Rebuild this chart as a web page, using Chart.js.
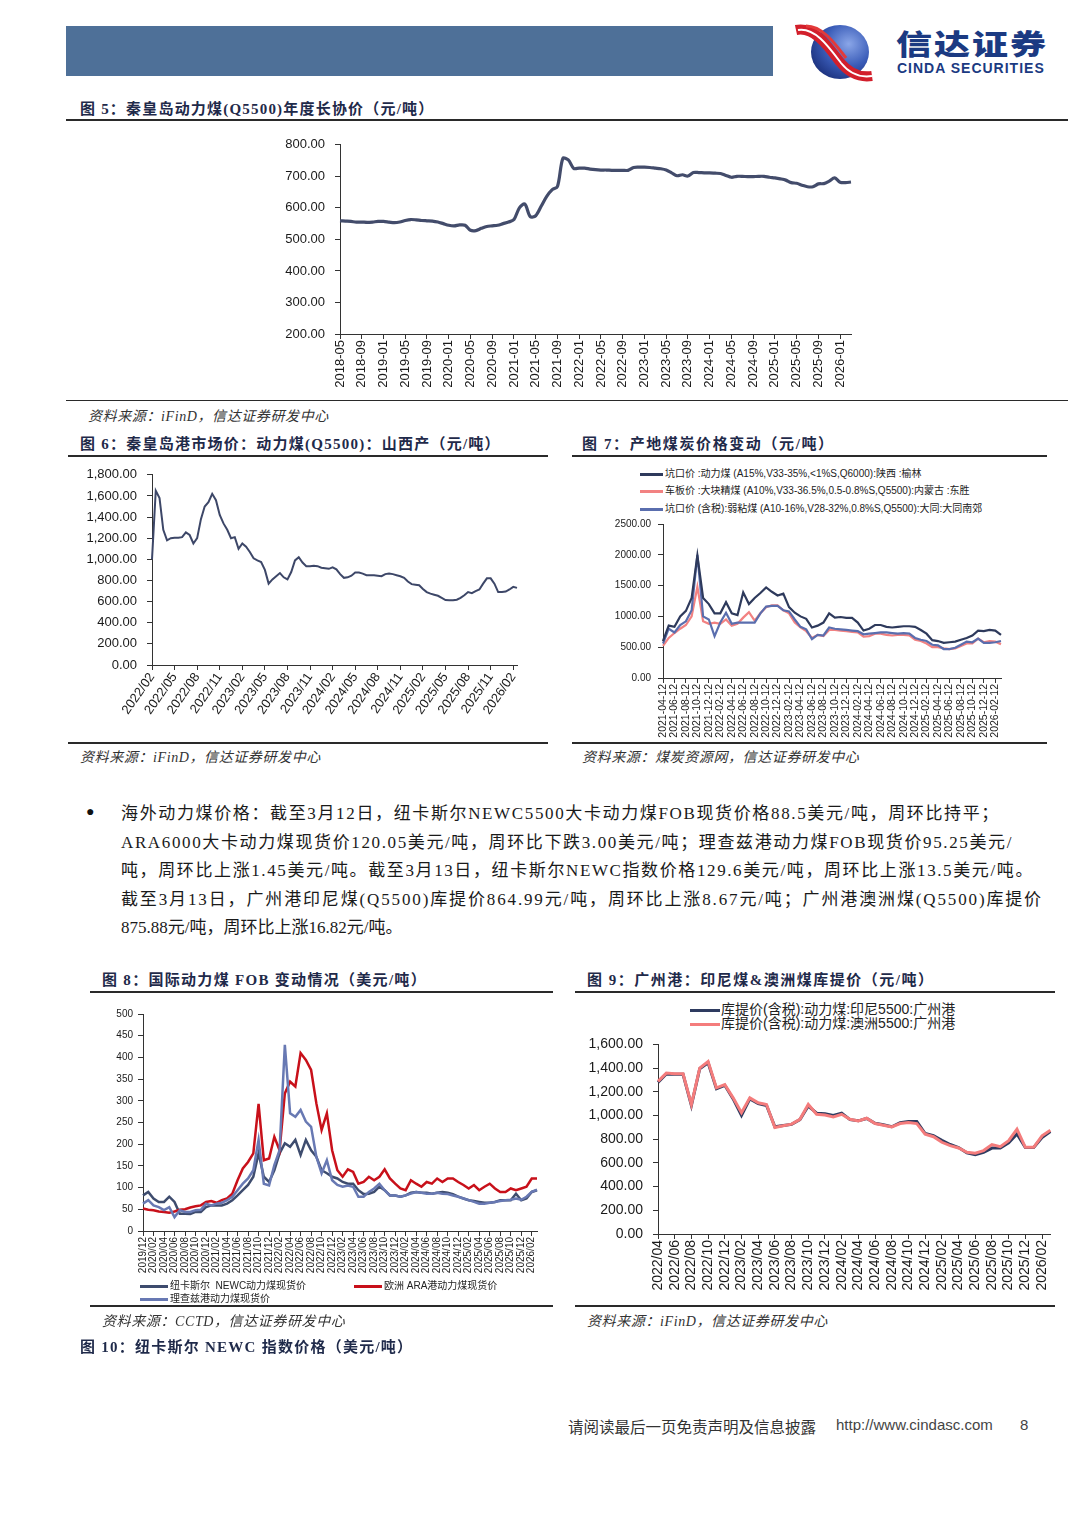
<!DOCTYPE html>
<html>
<head>
<meta charset="utf-8">
<script src="https://cdn.jsdelivr.net/npm/chart.js@4.4.1/dist/chart.umd.min.js"></script>
<style>
body { margin: 0; background: #fff; width: 1080px; height: 1527px; position: relative; overflow: hidden; font-family: "Liberation Sans", Arial, sans-serif; }
canvas { position: absolute; }
.title { position: absolute; font-family: "Liberation Serif", "Noto Sans CJK SC", serif; font-weight: bold; font-size: 15px; color: #1f2a4a; white-space: nowrap; line-height: 18px; letter-spacing: 1.25px; }
.rule { position: absolute; height: 2px; background: #2a2a2a; }
.src { position: absolute; font-family: "Liberation Serif", "Noto Sans CJK SC", serif; font-style: italic; font-size: 14px; color: #333; white-space: nowrap; line-height: 16px; letter-spacing: 0.6px; }
.leg { position: absolute; white-space: nowrap; font-family: "Liberation Sans", "Noto Sans CJK SC", sans-serif; color: #222; }
.leg div { position: absolute; left: 0; white-space: nowrap; }
.leg i { display: inline-block; vertical-align: middle; margin-right: 2px; }
.para { position: absolute; left: 121px; font-family: "Liberation Serif", "Noto Sans CJK SC", serif; font-size: 17px; color: #1a1a1a; white-space: nowrap; line-height: 20px; }
</style>
</head>
<body>

<!-- header -->
<div style="position:absolute;left:66px;top:26px;width:707px;height:50px;background:#4e7098;"></div>
<svg style="position:absolute;left:792px;top:22px" width="86" height="60" viewBox="0 0 86 60">
  <defs>
    <radialGradient id="g1" cx="0.65" cy="0.35" r="0.75">
      <stop offset="0" stop-color="#8aa6e8"/>
      <stop offset="0.55" stop-color="#3a5cb8"/>
      <stop offset="1" stop-color="#1a2f7a"/>
    </radialGradient>
  </defs>
  <ellipse cx="48" cy="30" rx="29" ry="27" fill="url(#g1)"/>
  <path d="M4,8 C22,4 36,24 48,40 C56,50 66,56 80,54" stroke="#d21f2b" stroke-width="10" fill="none"/>
  <path d="M6,8 C23,5 37,25 49,41 C57,51 67,56 80,54" stroke="#fff" stroke-width="2" fill="none"/>
  <path d="M14,4 C30,4 42,20 54,36" stroke="#e33a3a" stroke-width="3" fill="none"/>
</svg>
<div style="position:absolute;left:896px;top:28px;font-family:'Noto Sans CJK SC',sans-serif;font-weight:900;font-size:36px;line-height:36px;color:#1b3a82;letter-spacing:2px;white-space:nowrap;transform:scaleY(0.8);transform-origin:0 0;">信达证券</div>
<div style="position:absolute;left:897px;top:62px;font-family:'Liberation Sans',Arial,sans-serif;font-weight:bold;font-size:14px;line-height:13px;color:#1b3a82;letter-spacing:1px;white-space:nowrap;">CINDA SECURITIES</div>

<!-- figure 5 -->
<div class="title" style="left:80px;top:100px;letter-spacing:1.2px;">图 5：秦皇岛动力煤(Q5500)年度长协价（元/吨）</div>
<div class="rule" style="left:66px;top:119px;width:1002px;"></div>
<canvas id="c5"></canvas>
<div class="rule" style="left:66px;top:400px;width:1002px;height:1px;"></div>
<div class="src" style="left:88px;top:409px;">资料来源：iFinD，信达证券研发中心</div>

<!-- figure 6 -->
<div class="title" style="left:80px;top:435px;">图 6：秦皇岛港市场价：动力煤(Q5500)：山西产（元/吨）</div>
<div class="rule" style="left:68px;top:455px;width:480px;"></div>
<canvas id="c6"></canvas>
<div class="rule" style="left:68px;top:742px;width:480px;"></div>
<div class="src" style="left:80px;top:750px;">资料来源：iFinD，信达证券研发中心</div>

<!-- figure 7 -->
<div class="title" style="left:582px;top:435px;letter-spacing:1.6px;">图 7：产地煤炭价格变动（元/吨）</div>
<div class="rule" style="left:572px;top:455px;width:475px;"></div>
<div class="leg" style="left:640px;top:465px;font-size:10px;">
  <div style="top:0;"><i style="width:23px;height:3px;background:#2e3a5c;"></i>坑口价 :动力煤 (A15%,V33-35%,&lt;1%S,Q6000):陕西 :榆林</div>
  <div style="top:17px;"><i style="width:23px;height:3px;background:#f28282;"></i>车板价 :大块精煤 (A10%,V33-36.5%,0.5-0.8%S,Q5500):内蒙古 :东胜</div>
  <div style="top:35px;"><i style="width:23px;height:3px;background:#5a6eae;"></i>坑口价 (含税):弱粘煤 (A10-16%,V28-32%,0.8%S,Q5500):大同:大同南郊</div>
</div>
<canvas id="c7"></canvas>
<div class="rule" style="left:572px;top:742px;width:475px;"></div>
<div class="src" style="left:582px;top:750px;">资料来源：煤炭资源网，信达证券研发中心</div>

<!-- text -->
<div style="position:absolute;left:86px;top:803px;font-size:14px;color:#111;">●</div>
<div class="para" id="p1" style="top:804px;">海外动力煤价格：截至3月12日，纽卡斯尔NEWC5500大卡动力煤FOB现货价格88.5美元/吨，周环比持平；</div>
<div class="para" id="p2" style="top:833px;">ARA6000大卡动力煤现货价120.05美元/吨，周环比下跌3.00美元/吨；理查兹港动力煤FOB现货价95.25美元/</div>
<div class="para" id="p3" style="top:861px;">吨，周环比上涨1.45美元/吨。截至3月13日，纽卡斯尔NEWC指数价格129.6美元/吨，周环比上涨13.5美元/吨。</div>
<div class="para" id="p4" style="top:890px;">截至3月13日，广州港印尼煤(Q5500)库提价864.99元/吨，周环比上涨8.67元/吨；广州港澳洲煤(Q5500)库提价</div>
<div class="para" id="p5" style="top:918px;">875.88元/吨，周环比上涨16.82元/吨。</div>

<!-- figure 8 -->
<div class="title" style="left:102px;top:971px;letter-spacing:1.3px;">图 8：国际动力煤 FOB 变动情况（美元/吨）</div>
<div class="rule" style="left:90px;top:991px;width:463px;"></div>
<canvas id="c8"></canvas>
<div class="leg" style="left:140px;top:1277px;font-size:10px;">
  <div style="top:0;"><i style="width:28px;height:3px;background:#3e4c6e;"></i>纽卡斯尔&nbsp;&nbsp;NEWC动力煤现货价</div>
  <div style="top:0;left:214px;"><i style="width:28px;height:3px;background:#c8101a;"></i>欧洲 ARA港动力煤现货价</div>
  <div style="top:13px;"><i style="width:28px;height:3px;background:#6879b3;"></i>理查兹港动力煤现货价</div>
</div>
<div class="rule" style="left:90px;top:1305px;width:463px;"></div>
<div class="src" style="left:102px;top:1314px;">资料来源：CCTD，信达证券研发中心</div>
<div class="title" style="left:80px;top:1338px;">图 10：纽卡斯尔 NEWC 指数价格（美元/吨）</div>

<!-- figure 9 -->
<div class="title" style="left:587px;top:971px;letter-spacing:1.5px;">图 9：广州港：印尼煤&amp;澳洲煤库提价（元/吨）</div>
<div class="rule" style="left:575px;top:991px;width:480px;"></div>
<div class="leg" style="left:690px;top:1002px;font-size:14px;line-height:15px;">
  <div style="top:0;"><i style="width:30px;height:3.5px;background:#2e3b60;margin-right:1px;"></i>库提价(含税):动力煤:印尼5500:广州港</div>
  <div style="top:14px;"><i style="width:30px;height:3.5px;background:#f47c7c;margin-right:1px;"></i>库提价(含税):动力煤:澳洲5500:广州港</div>
</div>
<canvas id="c9"></canvas>
<div class="rule" style="left:575px;top:1305px;width:480px;"></div>
<div class="src" style="left:587px;top:1314px;">资料来源：iFinD，信达证券研发中心</div>

<!-- footer -->
<div style="position:absolute;left:568px;top:1415px;font-family:'Liberation Serif','Noto Sans CJK SC',serif;font-size:15.5px;color:#333;white-space:nowrap;">请阅读最后一页免责声明及信息披露</div>
<div style="position:absolute;left:836px;top:1416px;font-family:'Liberation Sans',Arial,sans-serif;font-size:15px;color:#444;">http://www.cindasc.com</div>
<div style="position:absolute;left:1020px;top:1416px;font-family:'Liberation Sans',Arial,sans-serif;font-size:15px;color:#444;">8</div>

<script>
// ---- data ----
// fig 5: monthly, 2018-05 .. 2026-03
const c5Values = [
  559, 558, 557, 555, 555, 554, 555, 557,
  557, 555, 553, 555, 560, 563, 562, 560, 559, 558, 555, 550,
  545, 543, 546, 545, 529, 528, 535, 541, 543, 545, 550, 555,
  563, 600, 612, 572, 575, 605, 636, 657, 668, 757, 752, 725,
  726, 726, 723, 721, 720, 720, 719, 719, 719, 719, 728, 729,
  729, 728, 726, 724, 720, 711, 702, 705, 701, 712, 712, 711,
  711, 710, 709, 703, 697, 700, 700, 699, 699, 700, 700, 697,
  695, 692, 688, 680, 678, 672, 667, 667, 676, 677, 685, 695,
  681, 680, 682
];

// fig 6: half-monthly, 2022/02 .. 2026/03
const c6Values = [
  1000, 1650, 1580, 1280, 1180, 1200, 1205, 1205, 1210, 1255,
  1230, 1150, 1200, 1380, 1500, 1540, 1620, 1560, 1420, 1340,
  1280, 1200, 1210, 1100, 1150, 1120, 1070, 1010, 990, 975,
  900, 770, 810, 840, 870, 830, 810, 880, 990, 1020,
  970, 935, 935, 940, 935, 920, 915, 910, 925, 905,
  860, 825, 830, 845, 875, 875, 865, 850, 850, 850,
  845, 840, 860, 865, 860, 850, 840, 825, 790, 765,
  760, 755, 720, 690, 675, 665, 655, 635, 615, 612,
  612, 618, 635, 660, 690, 680, 700, 715, 770, 820,
  820, 770, 690, 690, 695, 715, 740, 730
];

// fig 7: monthly, 2021-04 .. 2026-03
const c7Yulin = [
  600, 850, 830, 1000, 1090, 1300, 1990, 1300, 1200, 1050,
  1050, 1230, 1050, 1020, 1390, 1200, 1300, 1380, 1470, 1400,
  1340, 1370, 1150, 1060, 1000, 960, 820, 850, 900, 1050,
  980, 990, 975, 975, 900, 770, 800, 860, 860, 830,
  820, 830, 840, 840, 830, 780, 720, 615, 600, 570,
  580, 590, 620, 650, 690, 770, 760, 780, 770, 700
];
const c7Dongsheng = [
  520, 650, 730, 800, 860, 1000, 1480, 920, 880, 900,
  880, 950, 850, 880, 980, 1070, 930, 1050, 1150, 1180,
  1180, 1100, 1050, 900, 820, 760, 650, 700, 680, 780,
  780, 770, 760, 750, 740, 670, 680, 720, 720, 700,
  690, 700, 700, 690, 620, 600, 560, 500, 500, 480,
  470, 480, 520, 560, 560, 640, 580, 600, 590, 550
];
const c7Datong = [
  560, 800, 740, 860, 920, 1100, 2000, 1000, 950, 680,
  900, 1060, 880, 900, 900, 900, 900, 1050, 1160, 1170,
  1170, 1100, 1080, 950, 830, 790, 630, 700, 690, 820,
  800, 790, 780, 770, 760, 710, 720, 730, 740, 740,
  730, 720, 730, 720, 650, 620, 600, 540, 530, 470,
  470, 490, 540, 590, 580, 640, 570, 570, 580, 600
];

// fig 8: monthly, 2019/12 .. 2026/03
const c8Newc = [
  82, 90, 75, 67, 67, 79, 67, 40, 40, 39,
  44, 44, 55, 59, 59, 59, 63, 71, 82, 94,
  106, 125, 179, 125, 113, 140, 179, 202, 194, 210,
  175, 210, 186, 171, 140, 133, 125, 121, 113, 109,
  109, 94, 85, 86, 90, 102, 94, 82, 82, 79,
  82, 88, 90, 88, 88, 86, 88, 90, 88, 85,
  79, 75, 71, 69, 67, 65, 65, 67, 71, 71,
  71, 86, 71, 75, 90, 94
];
const c8Ara = [
  52, 49, 48, 45, 44, 42, 45, 49, 50, 54,
  57, 59, 67, 69, 65, 71, 75, 86, 117, 144,
  159, 179, 293, 163, 167, 217, 186, 317, 344, 333,
  410, 394, 371, 294, 233, 271, 186, 140, 125, 142,
  136, 109, 113, 125, 117, 125, 142, 121, 109, 98,
  94, 117, 109, 102, 113, 109, 121, 113, 121, 121,
  113, 106, 98, 106, 94, 102, 109, 98, 90, 90,
  98, 94, 98, 102, 121, 121
];
const c8Richards = [
  63, 71, 59, 55, 48, 55, 32, 48, 44, 44,
  48, 49, 63, 59, 63, 65, 71, 79, 94, 109,
  121, 140, 210, 109, 105, 152, 186, 429, 271, 263,
  279, 252, 240, 171, 133, 163, 117, 106, 102, 105,
  102, 79, 79, 90, 98, 109, 94, 82, 82, 79,
  82, 86, 90, 88, 86, 86, 88, 86, 85, 82,
  79, 75, 71, 67, 63, 63, 65, 67, 69, 71,
  72, 75, 72, 79, 90, 95
];

// fig 9: monthly, 2022/04 .. 2026/03
const c9Indo = [
  1280, 1350, 1348, 1348, 1085, 1395, 1445, 1225, 1255, 1140,
  1000, 1140, 1100, 1085, 905, 915, 925, 965, 1080, 1020,
  1015, 1000, 1020, 965, 955, 975, 935, 922, 905, 940,
  950, 950, 848, 830, 790, 755, 730, 685, 670, 690,
  725, 725, 770, 845, 730, 730, 815, 865
];
const c9Aus = [
  1288, 1358, 1352, 1352, 1093, 1400, 1455, 1233, 1260, 1149,
  1024, 1149, 1107, 1093, 899, 913, 927, 968, 1093, 1010,
  1004, 988, 1010, 968, 954, 977, 932, 918, 904, 932,
  940, 932, 843, 821, 774, 746, 726, 690, 682, 704,
  754, 737, 787, 885, 732, 732, 829, 876
];

// ---- labels ----
function months(y, m, n, sep, suffix) {
  const out = [];
  for (let k = 0; k < n; k++) {
    const mm = m - 1 + k;
    const yy = y + Math.floor(mm / 12);
    out.push(yy + sep + String(mm % 12 + 1).padStart(2, '0') + (suffix || ''));
  }
  return out;
}
const c5Labels = months(2018, 5, c5Values.length, '-');
const c6Labels = months(2022, 2, Math.ceil(c6Values.length / 2), '/').flatMap(l => [l, l]).slice(0, c6Values.length);
const c7Labels = months(2021, 4, c7Yulin.length, '-', '-12');
const c8Labels = months(2019, 12, c8Newc.length, '/');
const c9Labels = months(2022, 4, c9Indo.length, '/');

// ---- chart helper ----
const FONT = '"Liberation Sans", Arial, sans-serif';
const AXIS = '#333';
const TXT = '#1a1a1a';
const fixed2 = v => Number(v).toFixed(2);
const comma2 = v => Number(v).toLocaleString('en-US', { minimumFractionDigits: 2, maximumFractionDigits: 2 });

function drawLine(id, box, labels, series, o) {
  const cv = document.getElementById(id);
  cv.width = box.w;
  cv.height = box.h;
  cv.style.left = box.x + 'px';
  cv.style.top = box.y + 'px';
  const gridOpts = { display: true, drawOnChartArea: false, drawTicks: true, tickLength: 5, color: AXIS, lineWidth: 1 };
  return new Chart(cv, {
    type: 'line',
    data: {
      labels: labels,
      datasets: series.map(s => ({
        label: s.label, data: s.data, borderColor: s.color, borderWidth: s.width,
        pointRadius: 0, tension: s.tension || 0, fill: false
      }))
    },
    options: {
      responsive: false,
      animation: false,
      devicePixelRatio: 1,
      layout: { padding: { top: 0, right: o.padRight, left: 0, bottom: 0 } },
      plugins: { legend: { display: false }, tooltip: { enabled: false } },
      scales: {
        x: {
          type: 'category', offset: false,
          grid: gridOpts,
          border: { display: true, color: AXIS, width: 1 },
          ticks: {
            autoSkip: false, minRotation: o.rot, maxRotation: o.rot, padding: o.xPad,
            font: { family: FONT, size: o.xfs }, color: TXT,
            callback: (v, i) => (i % o.step === 0 ? labels[i] : null)
          },
          afterFit: s => { s.height = o.xh; }
        },
        y: {
          min: o.min, max: o.max,
          grid: gridOpts,
          border: { display: true, color: AXIS, width: 1 },
          ticks: { stepSize: o.stepY, padding: o.yPad, font: { family: FONT, size: o.yfs }, color: TXT, callback: o.fmt },
          afterFit: s => { s.width = o.yw; }
        }
      }
    }
  });
}

drawLine('c5', { x: 255, y: 127, w: 615, h: 268 }, c5Labels,
  [{ label: '年度长协价', data: c5Values, color: '#434c6b', width: 3.2, tension: 0.3 }],
  { padRight: 19, yw: 85, xh: 61, rot: 90, xPad: 1, step: 4, min: 200, max: 800, stepY: 100, fmt: fixed2, yPad: 10, xfs: 13, yfs: 13 });

drawLine('c6', { x: 70, y: 457, w: 478, h: 283 }, c6Labels,
  [{ label: '山西产', data: c6Values, color: '#3d4768', width: 2 }],
  { padRight: 31, yw: 82, xh: 75, rot: 55, xPad: 0, step: 6, min: 0, max: 1800, stepY: 200, fmt: comma2, yPad: 10, xfs: 13, yfs: 13 });

drawLine('c7', { x: 575, y: 511, w: 470, h: 229 }, c7Labels,
  [
    { label: '陕西榆林', data: c7Yulin, color: '#2e3a5c', width: 2.2 },
    { label: '大同南郊', data: c7Datong, color: '#5a6eae', width: 2.2 },
    { label: '内蒙古东胜', data: c7Dongsheng, color: '#f28282', width: 2.2 }
  ],
  { padRight: 44, yw: 88, xh: 62, rot: 90, xPad: 1, step: 2, min: 0, max: 2500, stepY: 500, fmt: fixed2, yPad: 7, xfs: 10.5, yfs: 10 });

drawLine('c8', { x: 85, y: 1003, w: 465, h: 277 }, c8Labels,
  [
    { label: '理查兹港', data: c8Richards, color: '#6879b3', width: 2.5 },
    { label: 'ARA', data: c8Ara, color: '#c8101a', width: 2.5 },
    { label: 'NEWC', data: c8Newc, color: '#3e4c6e', width: 2.5 }
  ],
  { padRight: 13, yw: 58, xh: 49, rot: 90, xPad: 1, step: 2, min: 0, max: 500, stepY: 50, fmt: v => v, yPad: 5, xfs: 10, yfs: 10 });

drawLine('c9', { x: 575, y: 1026, w: 485, h: 274 }, c9Labels,
  [
    { label: '澳洲5500', data: c9Aus, color: '#f47c7c', width: 3 },
    { label: '印尼5500', data: c9Indo, color: '#2e3b60', width: 3 }
  ],
  { padRight: 8, yw: 83, xh: 66, rot: 90, xPad: 1, step: 2, min: 0, max: 1600, stepY: 200, fmt: comma2, yPad: 10, xfs: 14, yfs: 14 });

// stretch body lines to the widths they have in the page
const lineEnds = { p1: 1000, p2: 1013, p3: 1034, p4: 1043 };
Object.keys(lineEnds).forEach(id => {
  const el = document.getElementById(id);
  const chars = el.textContent.length;
  const want = lineEnds[id] - 121;
  const have = el.getBoundingClientRect().width;
  el.style.letterSpacing = ((want - have) / chars) + 'px';
});
</script>
</body>
</html>
